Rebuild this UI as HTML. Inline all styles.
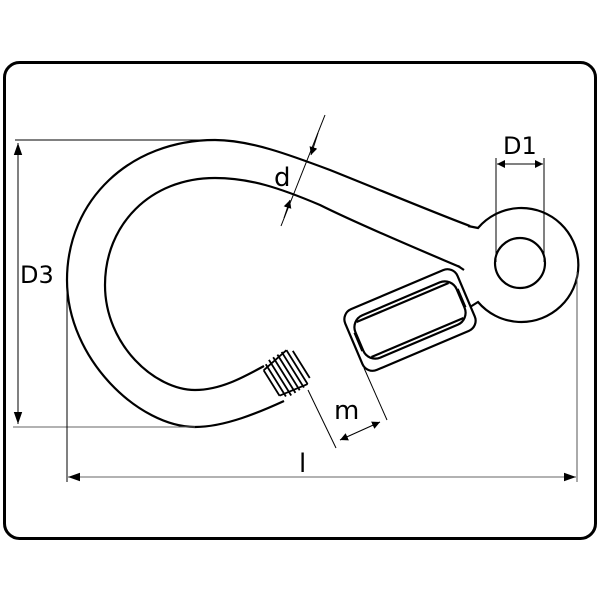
<!DOCTYPE html>
<html><head><style>body{margin:0;background:#fff}svg{display:block}text{font-family:"DejaVu Sans","Liberation Sans",sans-serif;fill:#000}</style></head><body>
<svg width="600" height="600" viewBox="0 0 600 600">
<defs><marker id="a" viewBox="0 0 10 10" refX="10" refY="5" markerWidth="8" markerHeight="8" orient="auto-start-reverse" markerUnits="userSpaceOnUse"><path d="M0,0L10,5L0,10z" fill="#000"/></marker>
<marker id="b" viewBox="0 0 10 10" refX="10" refY="5" markerWidth="12" markerHeight="12" orient="auto-start-reverse" markerUnits="userSpaceOnUse"><path d="M0,1.5L10,5L0,8.5z" fill="#000"/></marker></defs>
<rect x="4.5" y="62.5" width="591" height="476" rx="15" fill="none" stroke="#000" stroke-width="3"/>
<g fill="none" stroke="#000" stroke-width="2.2">
<!-- outer -->
<path d="M470,226 C440,215 380,190 330,170 C290,155 250,140 215,140 C130,140 67,200 67,280 C67,360 140,427 195,427 C225,427 260,412 284,401"/>
<!-- eye -->
<path d="M468,226 L478,228 A57,57 0 1 1 478,302 L470,307"/>
<circle cx="520" cy="263" r="25"/>
<!-- inner -->
<path d="M460,267 C420,250 360,225 320,205 C280,188 250,178 215,178 C150,178 105,225 105,285 C105,345 155,390 195,390 C220,390 242,378 264,366"/>
<path d="M458,266 L464,270"/>
<!-- nut -->
<g transform="translate(410,320) rotate(-23)">
<rect x="-61" y="-33" width="122" height="66" rx="11"/>
<rect x="-55" y="-23" width="110" height="46" rx="13"/>
<path d="M-50,-19 L50,-19 M-50,19 L50,19 M-56,-10 L-56,10 M56,-10 L56,10"/>
</g>
<!-- thread -->
<g transform="translate(286,374) rotate(-32)" stroke-width="1.8">
<path d="M-17,-15 L-17,15 M-12,-19 L-12,19 M-7,-21 L-7,21 M-2,-21 L-2,21 M3,-21 L3,21 M8,-21 L8,21 M13,-20 L13,20 M18,-16 L18,16"/>
<path d="M-17,-15 L13,-20 M-17,15 L13,20"/>
</g>
</g>
<g stroke="#000" stroke-width="1" fill="none">
<line x1="15" y1="140" x2="215" y2="140"/>
<line x1="13" y1="427" x2="195" y2="427" stroke="#666"/>
<line x1="18" y1="143" x2="18" y2="424" marker-start="url(#b)" marker-end="url(#b)"/>
<line x1="67" y1="280" x2="67" y2="482"/>
<line x1="577" y1="272" x2="577" y2="482" stroke="#555"/>
<line x1="68" y1="477" x2="576" y2="477" stroke="#666" marker-start="url(#b)" marker-end="url(#b)"/>
<line x1="325" y1="115" x2="281" y2="226"/>
<path d="M318,133 L311,155" marker-end="url(#a)"/>
<path d="M284,218 L290,200" marker-end="url(#a)"/>
<line x1="496" y1="158" x2="496" y2="262"/>
<line x1="544" y1="158" x2="544" y2="262"/>
<line x1="497" y1="164" x2="543" y2="164" marker-start="url(#a)" marker-end="url(#a)"/>
<line x1="308" y1="390" x2="336" y2="448"/>
<line x1="364" y1="368" x2="387" y2="420"/>
<line x1="340" y1="440" x2="380" y2="422" marker-start="url(#a)" marker-end="url(#a)"/>
</g>
<text x="20" y="283" font-size="24">D3</text>
<text x="274" y="186" font-size="26">d</text>
<text x="503" y="154" font-size="24">D1</text>
<text x="334" y="419" font-size="26">m</text>
<text x="299" y="472" font-size="26">l</text>
</svg>
</body></html>
